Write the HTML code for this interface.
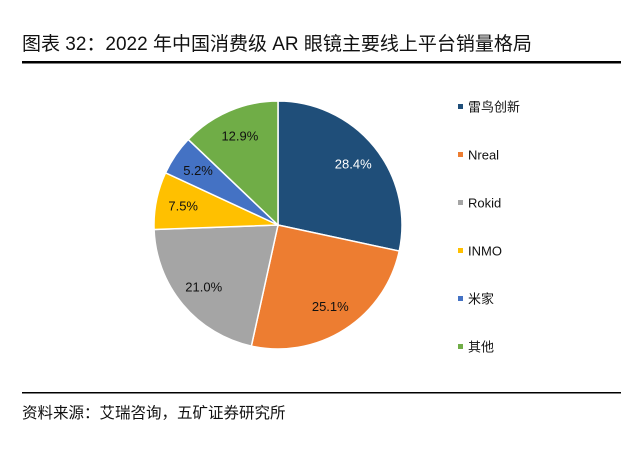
<!DOCTYPE html>
<html><head><meta charset="utf-8"><style>
body{margin:0;background:#fff;width:642px;height:469px;overflow:hidden;font-family:"Liberation Sans","Noto Sans CJK SC",sans-serif}
svg{display:block}
</style></head><body>
<svg width="642" height="469">
<text x="22" y="50" font-size="19" fill="#111">图表 32：2022 年中国消费级 AR 眼镜主要线上平台销量格局</text>
<rect x="22" y="61" width="599" height="2.5" fill="#000"/>
<g id="pie"></g>
<g id="legend"></g>
<rect x="22" y="392" width="599" height="1.5" fill="#000"/>
<text x="22" y="418" font-size="15.5" fill="#111">资料来源：艾瑞咨询，五矿证券研究所</text>
</svg>
<script>
const categories=["雷鸟创新","Nreal","Rokid","INMO","米家","其他"];
const values=[28.4,25.1,21.0,7.5,5.2,12.9];
const valueLabels=["28.4%","25.1%","21.0%","7.5%","5.2%","12.9%"];
const colors=["#1f4e79","#ed7d31","#a5a5a5","#ffc000","#4472c4","#70ad47"];
const NS="http://www.w3.org/2000/svg";
const cx=278,cy=225,r=124;
const pie=document.getElementById('pie'),leg=document.getElementById('legend');
const total=values.reduce((a,b)=>a+b,0);
let a0=-Math.PI/2;
values.forEach((v,i)=>{
  const a1=a0+v/total*2*Math.PI;
  const large=(a1-a0)>Math.PI?1:0;
  const p=document.createElementNS(NS,'path');
  p.setAttribute('d',`M${cx},${cy}L${cx+r*Math.cos(a0)},${cy+r*Math.sin(a0)}A${r},${r} 0 ${large} 1 ${cx+r*Math.cos(a1)},${cy+r*Math.sin(a1)}Z`);
  p.setAttribute('fill',colors[i]);p.setAttribute('stroke','#fff');p.setAttribute('stroke-width','1.5');
  
  
  pie.appendChild(p);
  const am=(a0+a1)/2,lr=r*0.78;
  const t=document.createElementNS(NS,'text');
  t.setAttribute('x',cx+lr*Math.cos(am));t.setAttribute('y',cy+lr*Math.sin(am)+4.5);
  t.setAttribute('text-anchor','middle');t.setAttribute('font-size','13');
  t.setAttribute('fill',i===0?'#fff':'#111');t.textContent=valueLabels[i];
  
  
  pie.appendChild(t);
  a0=a1;
  const y=107+i*48;
  const m=document.createElementNS(NS,'rect');
  m.setAttribute('x',458);m.setAttribute('y',y-3);m.setAttribute('width',5);m.setAttribute('height',5);m.setAttribute('fill',colors[i]);
  
  
  leg.appendChild(m);
  const lt=document.createElementNS(NS,'text');
  lt.setAttribute('x',468);lt.setAttribute('y',y+4.5);lt.setAttribute('font-size','13');lt.setAttribute('fill','#111');lt.textContent=categories[i];
  
  
  leg.appendChild(lt);
});
</script>
</body></html>
